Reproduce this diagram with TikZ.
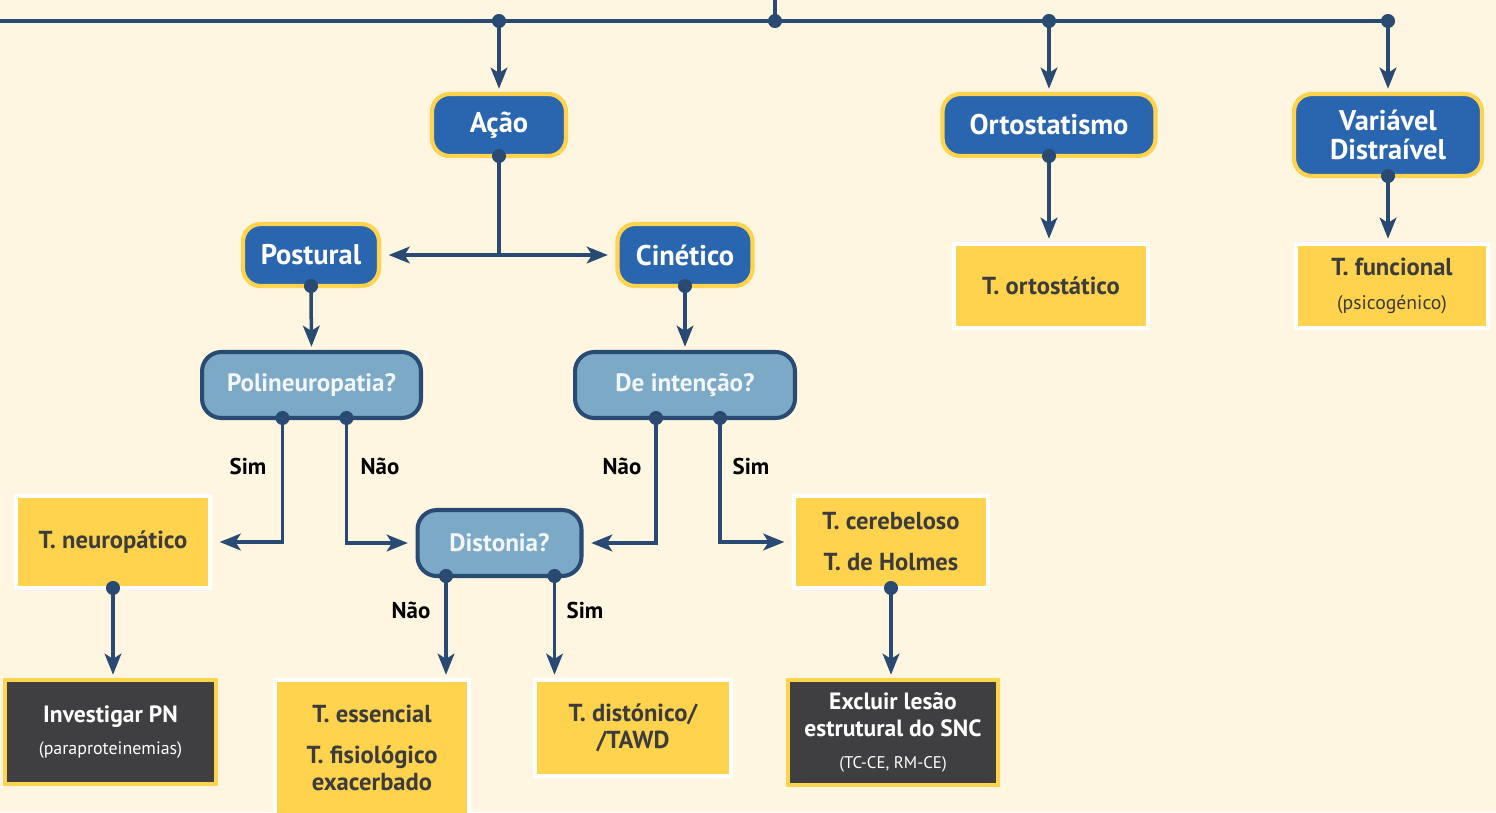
\documentclass[tikz,border=0pt]{standalone}
\usepackage{fontspec}
\setmainfont{PT Sans}
\usetikzlibrary{positioning,arrows.meta}

\definecolor{bgcream}{HTML}{FEF6E0}
\definecolor{mainblue}{HTML}{2A65AF}
\definecolor{boxyellow}{HTML}{FFD34D}
\definecolor{lightblue}{HTML}{7BA9C6}
\definecolor{navy}{HTML}{284A73}
\definecolor{darkbox}{HTML}{3F3F41}
\definecolor{restext}{HTML}{3C3C3C}
\definecolor{asktext}{HTML}{F3F6F9}

\newcommand{\subtxt}[2]{{\mdseries\fontsize{#1}{#1}\selectfont #2}}

\begin{document}
\begin{tikzpicture}[x=0.02cm,y=-0.02cm,
every node/.style={font=\bfseries\fontsize{14}{15.3}\selectfont,inner sep=0pt,outer sep=0pt},
mainbox/.style={draw=boxyellow,line width=2.4pt,fill=mainblue,rounded corners=10pt,
    text=white,align=center,minimum width=2.7cm,minimum height=1.24cm,
    font=\bfseries\fontsize{16.2}{16}\selectfont},
askbox/.style={draw=navy,line width=2.3pt,fill=lightblue,rounded corners=11pt,
    text=asktext,align=center,minimum height=1.32cm,font=\bfseries\fontsize{14.3}{15.3}\selectfont},
resbox/.style={draw=white,line width=2.3pt,fill=boxyellow,text=restext,align=center,
    minimum width=3.88cm},
actbox/.style={draw=boxyellow,line width=2.3pt,fill=darkbox,text=white,align=center,
    font=\bfseries\fontsize{13.4}{15.3}\selectfont},
conn/.style={draw=navy,line width=2pt},
arr/.style={conn,-{Stealth[length=12pt,width=9.5pt,inset=3pt]},shorten >=3pt},
side/.style={shorten >=5.5pt},
ans/.style={font=\bfseries\fontsize{13}{13}\selectfont,text=black}]

\useasboundingbox (0,0) rectangle (1496,812);
\fill[bgcream] (0,0) rectangle (1496,812);

\node (acao) [mainbox,minimum width=2.68cm] at (499,125) {Ação};
\node (orto) [mainbox,minimum width=4.26cm] at (1049,125) {Ortostatismo};
\node (vari) [mainbox,minimum width=3.76cm,minimum height=1.64cm] at (1388,135)
    {Variável\\Distraível};
\node (post) [mainbox,minimum width=2.72cm] at (311,255) {Postural};
\node (cine) [mainbox,minimum width=2.70cm] at (685,255) {Cinético};

\node (torto) [resbox,minimum height=1.68cm] at (1051,286) {T. ortostático};
\node (tfunc) [resbox,minimum width=3.84cm,minimum height=1.68cm] at (1392,286)
    {T. funcional\\[4pt]\subtxt{11.2}{(psicogénico)}};

\node (poli) [askbox,minimum width=4.38cm] at (311.5,385) {Polineuropatia?};
\node (inten) [askbox,minimum width=4.40cm] at (685,385) {De intenção?};
\node (dist) [askbox,minimum width=3.28cm] at (499.5,543) {Distonia?};

\node (neuro) [resbox,minimum height=1.84cm] at (113,542) {T. neuropático};
\node (cereb) [resbox,minimum height=1.84cm] at (891,542)
    {T. cerebeloso\\[8pt]T. de Holmes};

\node (invpn) [actbox,minimum width=4.22cm,minimum height=2.08cm] at (110.5,732)
    {Investigar PN\\[3pt]\subtxt{10.2}{(paraproteinemias)}};
\node (essen) [resbox,minimum height=2.72cm] at (372,748)
    {T. essencial\\[8pt]T. fisiológico\\exacerbado};
\node (tdist) [resbox,minimum width=3.92cm,minimum height=1.92cm] at (633,728)
    {T. distónico/\\/TAWD};
\node (exclu) [actbox,minimum width=4.20cm,minimum height=2.10cm] at (893,732.5)
    {Excluir lesão\\estrutural do SNC\\[3pt]\subtxt{9.6}{(TC-CE, RM-CE)}};

\node (simA) [ans] at (248,466) {Sim};
\node (naoA) [ans] at (380,466) {Não};
\node (naoB) [ans] at (622,466) {Não};
\node (simB) [ans] at (751,466) {Sim};
\node (naoC) [ans] at (411,610) {Não};
\node (simC) [ans] at (585,610) {Sim};

\coordinate (busw) at (0,21);
\coordinate (buse) at (vari.north |- busw);
\coordinate (feed) at (775,0);
\coordinate (split) at (acao.south |- post.east);
\coordinate (polisim) at ([xshift=-0.58cm]poli.south);
\coordinate (polinao) at ([xshift=0.70cm]poli.south);
\coordinate (intennao) at ([xshift=-0.58cm]inten.south);
\coordinate (intensim) at ([xshift=0.70cm]inten.south);
\coordinate (distnao) at ([xshift=-1.07cm]dist.south);
\coordinate (distsim) at ([xshift=1.10cm]dist.south);

\draw[conn] (busw) -- (buse);
\draw[conn] (feed) -- (feed |- busw);
\draw[arr] (acao.north |- busw) -- (acao.north);
\draw[arr] (orto.north |- busw) -- (orto.north);
\draw[arr] (buse) -- (vari.north);

\draw[conn] (acao.south) -- (split);
\draw[arr,side] (split) -- (post.east);
\draw[arr,side] (split) -- (cine.west);
\draw[arr] (post.south) -- (poli.north);
\draw[arr] (cine.south) -- (inten.north);
\draw[arr] (orto.south) -- (orto.south |- torto.north);
\draw[arr] (vari.south) -- (vari.south |- tfunc.north);

\draw[arr,side] (polisim) |- (neuro.east);
\draw[arr,side] (polinao) |- (dist.west);
\draw[arr,side] (intennao) |- (dist.east);
\draw[arr,side] (intensim) |- (cereb.west);
\draw[arr] (distnao) -- (distnao |- essen.north);
\draw[arr] (distsim) -- (distsim |- tdist.north);
\draw[arr] (neuro.south) -- (neuro.south |- invpn.north);
\draw[arr] (cereb.south) -- (cereb.south |- exclu.north);

\foreach \p in {feed |- busw,acao.north |- busw,orto.north |- busw,buse,
    acao.south,orto.south,vari.south,post.south,cine.south,
    polisim,polinao,intennao,intensim,distnao,distsim,neuro.south,cereb.south}
  \fill[navy] (\p) circle (4pt);
\end{tikzpicture}
\end{document}
